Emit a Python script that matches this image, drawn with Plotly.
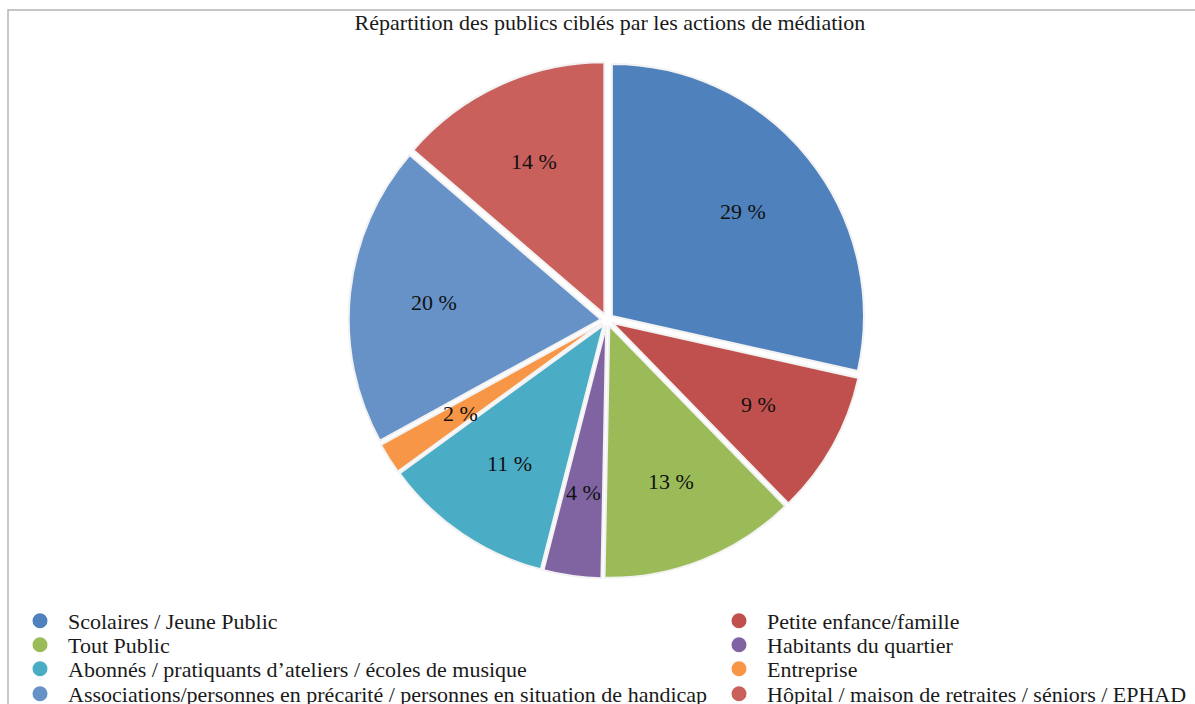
import math
import plotly.graph_objects as go

categories = [
    "Scolaires / Jeune Public",
    "Petite enfance/famille",
    "Tout Public",
    "Habitants du quartier",
    "Abonnés / pratiquants d’ateliers / écoles de musique",
    "Entreprise",
    "Associations/personnes en précarité / personnes en situation de handicap",
    "Hôpital / maison de retraites / séniors / EPHAD",
]
values = [28.5, 9.2, 12.6, 3.7, 11.0, 2.0, 19.3, 13.7]
pct_labels = ["29 %", "9 %", "13 %", "4 %", "11 %", "2 %", "20 %", "14 %"]
colors = ["#4F81BD", "#C0504D", "#9BBB59", "#8064A2", "#4BACC6", "#F79646", "#6792C8", "#C9605C"]
title_text = "Répartition des publics ciblés par les actions de médiation"

W, H = 1195, 704
SERIF = "Liberation Serif, Times New Roman, serif"
FS = 22

# pie geometry (pixels)
CX, CY, PULL = 607, 320, 0.025
R = 252
half = R * (1 + PULL)

fig = go.Figure()

fig.add_trace(go.Pie(
    labels=categories,
    values=values,
    textinfo="none",
    marker=dict(colors=colors, line=dict(color="#f2f2f2", width=2)),
    sort=False,
    direction="clockwise",
    rotation=0,
    pull=PULL,
    showlegend=False,
    domain=dict(x=[(CX - half) / W, (CX + half) / W], y=[(H - CY - half) / H, (H - CY + half) / H]),
    hoverinfo="label+percent",
))

# percentage labels at a fixed fraction of the radius, at each slice's mid-angle
total = sum(values)
cum = 0.0
annotations = []
for v, t in zip(values, pct_labels):
    mid = (cum + v / 2) / total * 2 * math.pi
    cum += v
    rr = 0.69 * R
    px = CX + rr * math.sin(mid)
    py = CY - rr * math.cos(mid)
    annotations.append(dict(x=px / W, y=1 - py / H, xref="paper", yref="paper", text=t,
                            showarrow=False, font=dict(family=SERIF, size=FS, color="#111"),
                            xanchor="center", yanchor="middle"))

# legend: one legend per entry, two columns
row_y = [621, 645, 669, 694]
col_x = [48, 747]
legend_layout = {}
for i in range(len(categories)):
    key = "legend" if i == 0 else f"legend{i + 1}"
    fig.add_trace(go.Scatter(
        x=[None], y=[None], mode="markers",
        marker=dict(symbol="circle", size=15, color=colors[i]),
        name=categories[i], legend=key, showlegend=True,
    ))
    r, c = divmod(i, 2)
    legend_layout[key] = dict(
        x=(col_x[c] - 36) / W, y=1 - row_y[r] / H, xanchor="left", yanchor="middle",
        orientation="v", font=dict(family=SERIF, size=FS, color="#1a1a1a"),
        bgcolor="rgba(0,0,0,0)", itemwidth=46,
    )

fig.update_layout(
    width=W, height=H,
    margin=dict(l=0, r=0, t=0, b=0, autoexpand=False),
    paper_bgcolor="white",
    plot_bgcolor="white",
    title=dict(text=title_text, x=610 / W, xanchor="center", y=1 - 22 / H, yanchor="middle",
               font=dict(family=SERIF, size=FS, color="#1a1a1a")),
    xaxis=dict(visible=False),
    yaxis=dict(visible=False),
    annotations=annotations,
    shapes=[dict(type="rect", xref="paper", yref="paper",
                 x0=8 / W, x1=1.01, y0=-0.01, y1=1 - 10 / H,
                 line=dict(color="#b5b5b5", width=1.5), layer="below")],
    **legend_layout,
)

fig.write_html("out.html", config={"displayModeBar": False},
               post_script="document.body.style.margin='0';")
